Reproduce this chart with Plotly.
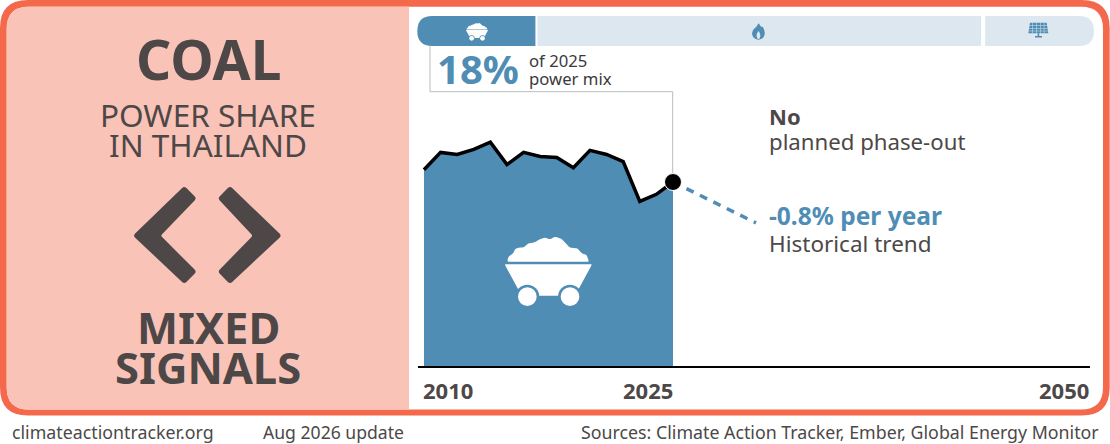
# %% import

import plotly.graph_objects as go

# %% data

years = [2010, 2011, 2012, 2013, 2014, 2015, 2016, 2017, 2018, 2019, 2020, 2021, 2022, 2023, 2024, 2025]
coal_share = [19.2, 20.9, 20.7, 21.2, 21.9, 19.7, 20.9, 20.5, 20.4, 19.4, 21.1, 20.7, 20.0, 16.1, 16.8, 18.0]

trend_years = [2025, 2030]
trend_share = [18.0, 14.0]

tick_years = [2010, 2025, 2050]
tick_anchor = ["left", "right", "right"]

mix_share = [17.5, 66.1, 16.4]

# %% colours and helpers

ORANGE = "#F4694B"
PINK = "#FAC3B8"
BLUE = "#4F8DB5"
LIGHT = "#DCE7F0"
DARK = "#4D4847"
FONT = "Noto Sans"

shapes = []
notes = []


# everything decorative is placed in page pixels, plot area is 418-1090 / 60-366
def px(x):
    return (x - 418) / 672


def py(y):
    return (366 - y) / 306


def poly(points, color, r=0, layer="below"):
    n = len(points)
    radii = r if isinstance(r, list) else [r] * n
    d = ""
    for i in range(n):
        x, y = points[i]
        xa, ya = points[i - 1]
        xb, yb = points[(i + 1) % n]
        la = ((xa - x) ** 2 + (ya - y) ** 2) ** 0.5
        lb = ((xb - x) ** 2 + (yb - y) ** 2) ** 0.5
        ra = min(radii[i], la / 2) / la
        rb = min(radii[i], lb / 2) / lb
        x0, y0 = x + (xa - x) * ra, y + (ya - y) * ra
        x1, y1 = x + (xb - x) * rb, y + (yb - y) * rb
        d += f"{'M' if i == 0 else 'L'}{px(x0):.5f},{py(y0):.5f} "
        d += f"Q{px(x):.5f},{py(y):.5f} {px(x1):.5f},{py(y1):.5f} "
    shapes.append(dict(type="path", xref="paper", yref="paper", path=d + "Z",
                       fillcolor=color, line=dict(width=0), layer=layer))


def rect(x0, y0, x1, y1, color, r=0, layer="below"):
    poly([(x0, y0), (x1, y0), (x1, y1), (x0, y1)], color, r, layer)


def circle(cx, cy, r, color, layer="below"):
    shapes.append(dict(type="circle", xref="paper", yref="paper",
                       x0=px(cx - r), x1=px(cx + r), y0=py(cy - r), y1=py(cy + r),
                       fillcolor=color, line=dict(width=0), layer=layer))


def text(x, y, s, size, color=DARK, bold=False, anchor="left"):
    shift = {"left": -2.5, "center": 0, "right": 2.5}[anchor]
    notes.append(dict(xref="paper", yref="paper", x=px(x + shift), y=py(y), text=f"<b>{s}</b>" if bold else s,
                      showarrow=False, xanchor=anchor, yanchor="middle",
                      font=dict(family=FONT, size=size, color=color)))


# coal cart, drawn from a 350 wide sketch
def cart(ox, oy, k, fg, bg, layer):
    def t(p):
        return [(ox + a * k, oy + b * k) for a, b in p]

    pile = [(52, 110), (55, 95), (70, 85), (75, 72), (90, 67), (100, 68), (115, 55), (135, 52), (150, 42),
            (165, 38), (180, 43), (195, 35), (215, 42), (230, 58), (240, 68), (262, 70), (275, 85),
            (290, 90), (297, 110)]
    poly(t(pile), fg, 4 * k, layer)
    poly(t([(45, 118), (305, 118), (303, 124), (255, 212), (95, 212), (47, 124)]), fg, 0, layer)
    for cx in (112, 240):
        circle(ox + cx * k, oy + 215 * k, 36 * k, bg, layer)
        circle(ox + cx * k, oy + 215 * k, 28 * k, fg, layer)


# %% frame and left panel

rect(0, 0, 1109.7, 415.5, ORANGE, 28)
rect(6.7, 6.7, 1103, 409.5, "white", 22)
rect(6.7, 6.7, 409, 409.5, PINK, [22, 0, 0, 22])

poly([(133, 235.7), (184.3, 186), (196.7, 198.3), (160.7, 235.7), (196.7, 271.7), (184.3, 284)],
     DARK, [3, 3, 3, 2, 3, 3])
poly([(281.7, 235.7), (230, 186), (217.7, 198.3), (252.7, 235.7), (217.7, 271.7), (230, 284)],
     DARK, [3, 3, 3, 2, 3, 3])

text(208, 58, "COAL", 55, bold=True, anchor="center")
text(208, 114, "POWER SHARE", 31.5, anchor="center")
text(208, 144.5, "IN THAILAND", 31.5, anchor="center")
text(208, 327, "MIXED", 43.5, bold=True, anchor="center")
text(208, 367, "SIGNALS", 43.5, bold=True, anchor="center")

# %% power mix strip

left, right = 417.3, 1094
edges = [left]
for v in mix_share:
    edges.append(edges[-1] + v / sum(mix_share) * (right - left))

rect(edges[0], 16, edges[1] - 0.3, 46, BLUE, [15, 0, 0, 15])
rect(edges[1] + 1.7, 16, edges[2] - 2, 46, LIGHT)
rect(edges[2] + 2.2, 16, edges[3], 46, LIGHT, [0, 15, 15, 0])

cart(477 - 175 * 0.085, 23 - 35 * 0.085, 0.085, "white", BLUE, "below")

# flame
poly([(758.5, 22.7), (761, 27), (763, 26.5), (765, 33), (763.5, 38), (758.5, 40), (753.5, 38),
      (751.7, 33.5), (753.5, 29), (756.5, 27)], BLUE, 2)
poly([(758.5, 30.5), (760.5, 34.5), (760, 38), (758.5, 39.3), (757, 38), (756.3, 35)], LIGHT, 1.5)

# solar panel
poly([(1030, 22.7), (1046.7, 22.7), (1048.3, 33.3), (1028.3, 33.3)], BLUE)
for gy in (25.5, 28.5, 30.8):
    rect(1028.5, gy, 1048, gy + 0.5, LIGHT)
for gx in (1032.5, 1036, 1040, 1043.8):
    rect(gx, 22.7, gx + 0.5, 33.3, LIGHT)
rect(1037.6, 33.3, 1039.2, 36, BLUE)
rect(1035, 36, 1042, 37.5, BLUE)

# %% callout

shapes.append(dict(type="path", xref="paper", yref="paper", layer="below",
                   path=f"M{px(430)},{py(46)} L{px(430)},{py(91.7)} L{px(672.7)},{py(91.7)} L{px(672.7)},{py(182)}",
                   line=dict(color="#B9BDBD", width=1)))

text(437, 68, "18%", 40, BLUE, bold=True)
text(529, 60, "of 2025", 16.7, "#3A3A3A")
text(529, 78, "power mix", 16.7, "#3A3A3A")

text(769, 115.5, "No", 22, bold=True)
text(769, 141.5, "planned phase-out", 22.2)
text(769, 215.5, "-0.8% per year", 24.5, BLUE, bold=True)
text(769, 243, "Historical trend", 22.5)

text(12, 432, "climateactiontracker.org", 17.8)
text(263, 432, "Aug 2026 update", 17.6)
text(1098, 432, "Sources: Climate Action Tracker, Ember, Global Energy Monitor", 17.8, anchor="right")

# big cart on top of the area
cart(490, 225, 1 / 3, "white", BLUE, "above")

# %% plot

fig = go.Figure()
fig.add_trace(go.Scatter(x=years, y=coal_share, mode="lines", fill="tozeroy", fillcolor=BLUE,
                         line=dict(color="black", width=3.5), hoverinfo="skip"))
fig.add_trace(go.Scatter(x=trend_years, y=trend_share, mode="lines",
                         line=dict(color=BLUE, width=3.5, dash="8px,7px"), hoverinfo="skip"))
fig.add_trace(go.Scatter(x=years[-1:], y=coal_share[-1:], mode="markers",
                         marker=dict(color="black", size=17, line=dict(color="white", width=1)), hoverinfo="skip"))

for yr, side in zip(tick_years, tick_anchor):
    notes.append(dict(xref="x", yref="paper", x=yr, y=py(389.5), text=f"<b>{yr}</b>", showarrow=False,
                      xanchor=side, yanchor="middle", xshift=-2.5 if side == "left" else 2.5,
                      font=dict(family=FONT, size=22, color=DARK)))

fig.update_layout(
    width=1110,
    height=444,
    margin=dict(l=418, r=20, t=60, b=78),
    paper_bgcolor="white",
    plot_bgcolor="rgba(0,0,0,0)",
    showlegend=False,
    shapes=shapes,
    annotations=notes,
)
fig.update_xaxes(range=[2009.64, 2050.12], showgrid=False, zeroline=False, showticklabels=False,
                 showline=True, linecolor="black", linewidth=2, ticks="")
fig.update_yaxes(range=[0, 29.94], showgrid=False, zeroline=False, showticklabels=False, ticks="")

fig.write_html("out.html", config=dict(displayModeBar=False),
               post_script="document.body.style.margin='0';document.body.style.overflow='hidden';")
